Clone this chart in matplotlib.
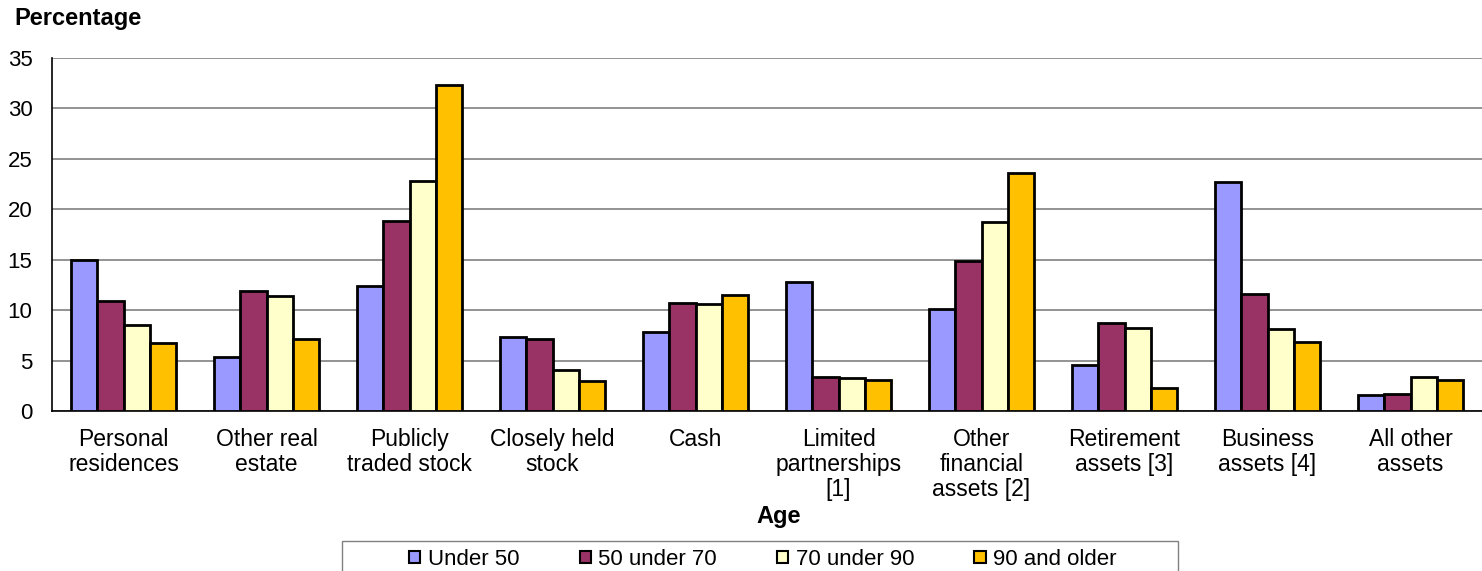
import numpy as np
import matplotlib.pyplot as plt
from matplotlib.patches import Rectangle

plt.rcParams['font.family'] = ['Liberation Sans', 'DejaVu Sans']

categories = ['Personal\nresidences', 'Other real\nestate', 'Publicly\ntraded stock',
              'Closely held\nstock', 'Cash', 'Limited\npartnerships\n[1]',
              'Other\nfinancial\nassets [2]', 'Retirement\nassets [3]',
              'Business\nassets [4]', 'All other\nassets']
age_groups = ['Under 50', '50 under 70', '70 under 90', '90 and older']

under_50 = [15.0, 5.4, 12.4, 7.3, 7.8, 12.8, 10.1, 4.6, 22.7, 1.6]
from_50_to_70 = [10.9, 11.9, 18.8, 7.1, 10.7, 3.4, 14.9, 8.7, 11.6, 1.7]
from_70_to_90 = [8.5, 11.4, 22.8, 4.1, 10.6, 3.3, 18.7, 8.2, 8.1, 3.4]
over_90 = [6.7, 7.1, 32.3, 3.0, 11.5, 3.1, 23.6, 2.3, 6.8, 3.1]

colors = ['#9999FF', '#993366', '#FFFFCC', '#FFC000']

fig = plt.figure(figsize=(14.82, 5.71), dpi=100)
ax = fig.add_axes([52 / 1482, 1 - 411 / 571, 1 - 52 / 1482, (411 - 58) / 571])

x = np.arange(len(categories))
w = 0.183
series = [under_50, from_50_to_70, from_70_to_90, over_90]
for i, (vals, c, lab) in enumerate(zip(series, colors, age_groups)):
    ax.bar(x + (i - 1.5) * w, vals, width=w, color=c, edgecolor='black',
           linewidth=2, label=lab, zorder=3)

ax.set_xlim(-0.5, len(categories) - 0.5)
ax.set_ylim(0, 35)
ax.set_yticks(range(0, 36, 5))
ax.set_xticks(x)
ax.set_xticklabels(categories, fontsize=16.5, linespacing=1.13)
ax.tick_params(axis='both', length=0)
ax.tick_params(axis='y', labelsize=16, pad=14)
ax.tick_params(axis='x', pad=12)
ax.yaxis.grid(True, color='#808080', linewidth=1.2, zorder=0)
for s in ['top', 'right']:
    ax.spines[s].set_visible(False)
ax.spines['left'].set_linewidth(1.2)
ax.spines['bottom'].set_linewidth(1.2)

fig.text(14 / 1482, 1 - 18 / 571, 'Percentage', fontsize=17, fontweight='bold',
         va='center', ha='left')
fig.text(779 / 1482, 1 - 517 / 571, 'Age', fontsize=17, fontweight='bold',
         va='center', ha='center')

# legend box runs wider than its entries and off the bottom edge
fig.patches.append(Rectangle((342 / 1482, -0.02), 836 / 1482, 0.02 + 30 / 571,
                             transform=fig.transFigure, facecolor='white',
                             edgecolor='#808080', linewidth=1, zorder=1))
leg = fig.legend(loc='upper center', bbox_to_anchor=(763 / 1482, 1 - 541 / 571),
                 ncol=4, fontsize=16, frameon=False,
                 handlelength=0.5, handleheight=0.5,
                 handletextpad=0.35, columnspacing=2.7, borderpad=0.35,
                 borderaxespad=0)
leg.set_zorder(2)
for h in leg.legend_handles:
    h.set_linewidth(1.5)

fig.savefig('out.png', dpi=100)
